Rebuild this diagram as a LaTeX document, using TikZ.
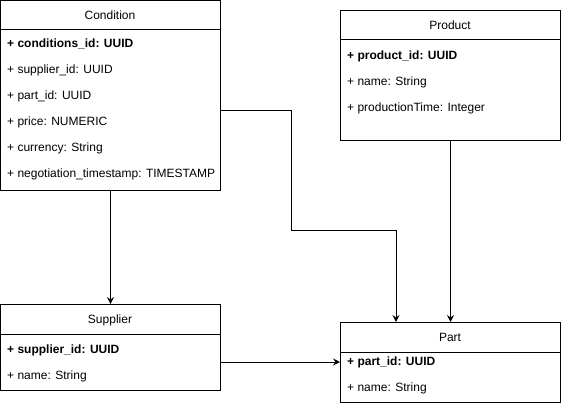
\documentclass[tikz,border=0pt]{standalone}
\usepackage{fontspec}
\setmainfont{Liberation Sans}
\usetikzlibrary{arrows.meta}
\begin{document}
\begin{tikzpicture}[x=1pt,y=-1pt,
  box/.style={draw=black,line width=1pt,fill=white,rectangle,inner sep=0pt,anchor=north west,minimum width=220pt},
  title/.style={font=\fontsize{12}{14}\selectfont,anchor=base,inner sep=0pt},
  row/.style={font=\fontsize{12}{14}\selectfont,anchor=base west,inner sep=0pt},
  brow/.style={row,font=\fontsize{12}{14}\selectfont\bfseries},
  sep/.style={draw=black,line width=1pt},
  arr/.style={draw=black,line width=1pt,-{Stealth[length=7pt,width=7pt,inset=2.5pt]}}]
\useasboundingbox (0,0) rectangle (561,404);
% Condition
\node[box,minimum height=190pt] (cond) at (0,0) {};
\draw[sep] (0,30) -- (220,30);
\node[title] (condt) at (110,19.5) {Condition};
\node[brow] (c1) at (7,47.5) {+ conditions\_id: UUID};
\node[row] (c2) at (7,73.5) {+ supplier\_id: UUID};
\node[row] (c3) at (7,99.5) {+ part\_id: UUID};
\node[row] (c4) at (7,125.5) {+ price: NUMERIC};
\node[row] (c5) at (7,151.5) {+ currency: String};
\node[row] (c6) at (7,177.5) {+ negotiation\_timestamp: TIMESTAMP};
% Product
\node[box,minimum height=130pt] (prod) at (340,10) {};
\draw[sep] (340,40) -- (560,40);
\node[title] (prodt) at (450,29.5) {Product};
\node[brow] (p1) at (347,59.5) {+ product\_id: UUID};
\node[row] (p2) at (347,85.5) {+ name: String};
\node[row] (p3) at (347,111.5) {+ productionTime: Integer};
% Supplier
\node[box,minimum height=86pt] (sup) at (0,304) {};
\draw[sep] (0,334) -- (220,334);
\node[title] (supt) at (110,323.5) {Supplier};
\node[brow] (s1) at (7,353.5) {+ supplier\_id: UUID};
\node[row] (s2) at (7,379.5) {+ name: String};
% Part
\node[box,minimum height=80pt] (part) at (340,322) {};
\draw[sep] (340,352) -- (560,352);
\node[title] (partt) at (450,341.5) {Part};
\node[brow] (q1) at (347,365.5) {+ part\_id: UUID};
\node[row] (q2) at (347,391.5) {+ name: String};
% connectors
\coordinate (ce) at ([yshift=-110pt]cond.north east);
\coordinate (pin) at ([xshift=56pt]part.north west);
\coordinate (pl) at ([yshift=-40pt]part.north west);
\draw[arr] (cond.south) -- (sup.north);
\draw[arr] (ce) -- ++(70,0) -- ++(0,120) -| (pin);
\draw[arr] (prod.south) -- (prod.south |- part.north);
\draw[arr] (sup.east |- pl) -- (pl);
\end{tikzpicture}
\end{document}
